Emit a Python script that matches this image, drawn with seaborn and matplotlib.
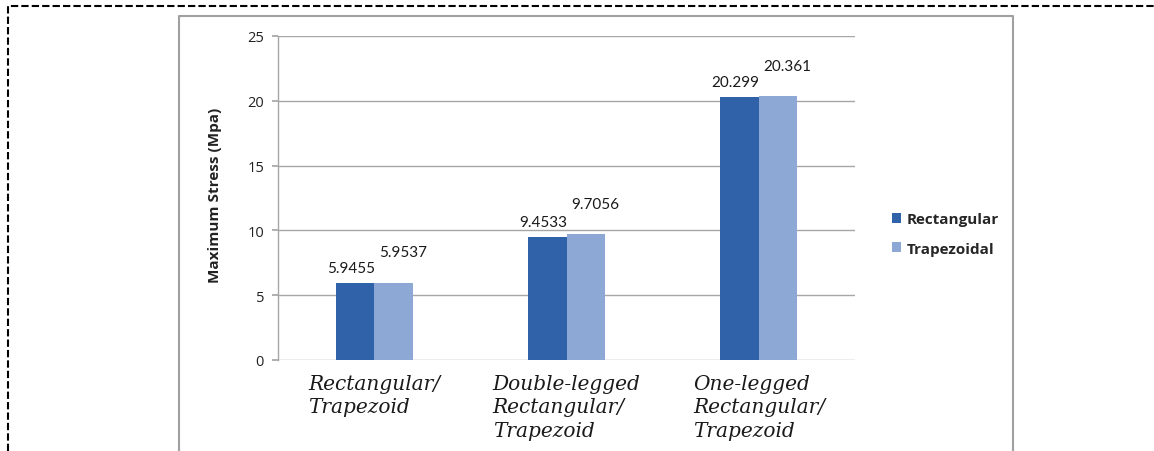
import matplotlib
matplotlib.use("Agg")
import matplotlib.pyplot as plt
from matplotlib.lines import Line2D
import seaborn as sns
import pandas as pd

categories = ["Rectangular/\nTrapezoid", "Double-legged\nRectangular/\nTrapezoid", "One-legged\nRectangular/\nTrapezoid"]
series = ["Rectangular", "Trapezoidal"]
rect_values = [5.9455, 9.4533, 20.299]
trap_values = [5.9537, 9.7056, 20.361]
rect_labels = ["5.9455", "9.4533", "20.299"]
trap_labels = ["5.9537", "9.7056", "20.361"]
y_ticks = [0, 5, 10, 15, 20, 25]
y_label = "Maximum Stress (Mpa)"
colors = ["#2f62a8", "#8ea8d6"]

df = pd.DataFrame({
    "category": categories * 2,
    "series": [series[0]] * 3 + [series[1]] * 3,
    "value": rect_values + trap_values,
})

sns.set_theme(style="white")
plt.rcParams["font.family"] = ["Open Sans", "DejaVu Sans"]

W, H = 1154, 452
fig = plt.figure(figsize=(W / 100, H / 100), dpi=100)
ax = fig.add_axes([278 / W, 1 - 361 / H, (855 - 278) / W, (361 - 37) / H])

sns.barplot(data=df, x="category", y="value", hue="series", palette=colors,
            width=0.4, saturation=1, ax=ax, legend=True, edgecolor="none", order=categories)

ax.set_ylim(0, 25)
ax.set_yticks(y_ticks)
ax.set_xlim(-0.5, 2.5)
ax.yaxis.grid(True, color="#a6a6a6", linewidth=1.0)
ax.set_axisbelow(True)
for s in ["top", "right", "bottom"]:
    ax.spines[s].set_visible(False)
ax.spines["left"].set_color("#a6a6a6")
ax.spines["left"].set_linewidth(1.0)
ax.tick_params(axis="y", left=True, length=4, color="#a6a6a6", pad=6, labelsize=10.5, labelcolor="#222222")
ax.tick_params(axis="x", bottom=False, pad=4)
for lab in ax.get_xticklabels():
    lab.set_fontfamily("DejaVu Serif")
    lab.set_fontstyle("italic")
    lab.set_fontsize(14.5)
    lab.set_color("#1a1a1a")
    lab.set_linespacing(1.3)
    lab.set_multialignment("left")
ax.set_xlabel("")
ax.set_ylabel(y_label, fontsize=11, fontweight="bold", color="#222222")
ax.yaxis.set_label_coords(-0.097, 0.51)

# value labels
label_sets = [rect_labels, trap_labels]
offsets = [(-3, 6), (7, 17)]
for cont, labs, (dx, dy) in zip(ax.containers, label_sets, offsets):
    for bar, txt in zip(cont, labs):
        ax.annotate(txt, xy=(bar.get_x() + bar.get_width() / 2, bar.get_height()),
                    xytext=(dx, dy), textcoords="offset points", ha="center", va="bottom",
                    fontsize=11, color="#1a1a1a", family="Lato")

handles, labels = ax.get_legend_handles_labels()
ax.legend(handles, labels, loc="center left", bbox_to_anchor=(878 / W, 1 - 235 / H),
          bbox_transform=fig.transFigure, frameon=False, handlelength=0.6, handleheight=0.6,
          handletextpad=0.35, labelspacing=1.0, prop={"family": "Open Sans", "weight": "bold", "size": 11})

# inner chart frame (gray)
def fline(xs, ys, **kw):
    fig.add_artist(Line2D([x / W for x in xs], [1 - y / H for y in ys], transform=fig.transFigure, **kw))

fline([179, 179, 1013, 1013], [452, 17, 17, 452], color="#a0a0a0", linewidth=1.5)
# outer dashed border (top and left only visible)
fline([8, 8, 1154], [452, 7, 7], color="black", linewidth=1.5, linestyle=(0, (3.5, 1.5)))

fig.savefig("out.png", dpi=100)
